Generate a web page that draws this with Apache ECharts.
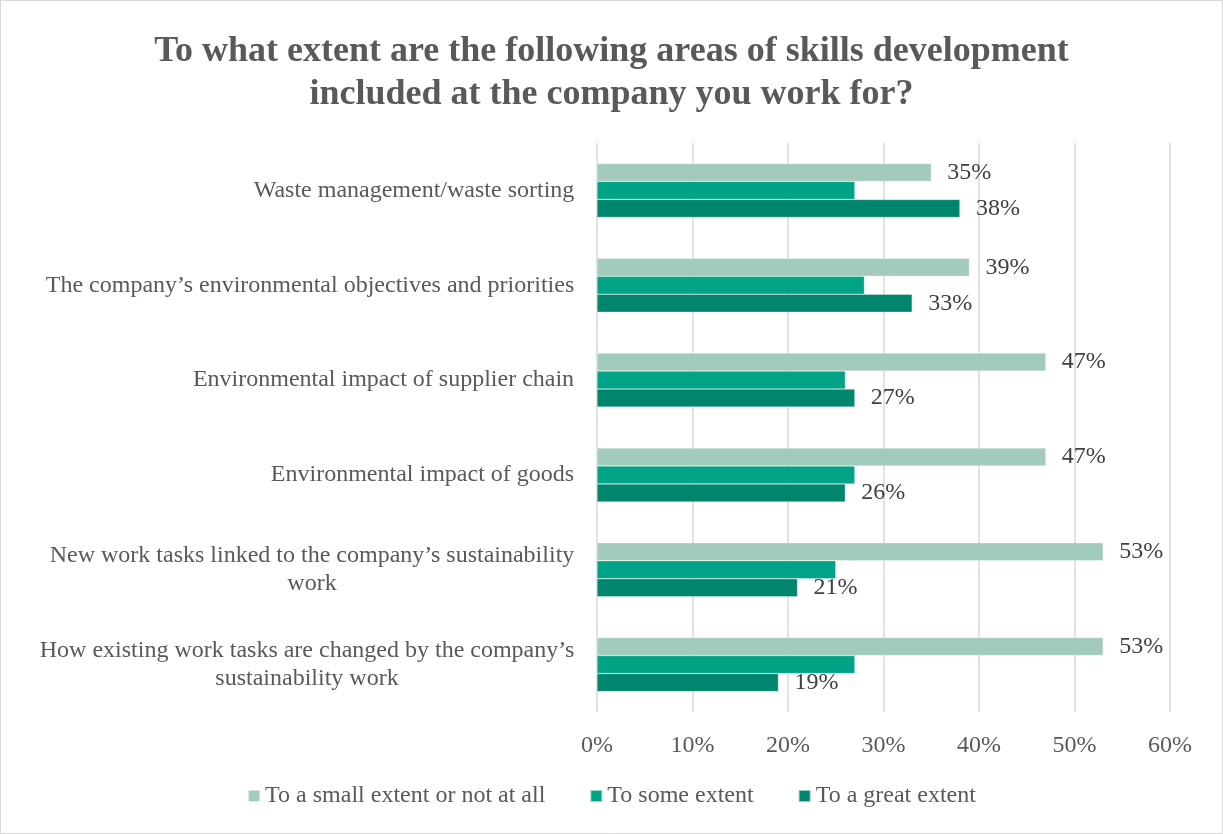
<!DOCTYPE html>
<html>
<head>
<meta charset="utf-8">
<script src="https://cdn.jsdelivr.net/npm/echarts@6/dist/echarts.min.js"></script>
<style>
  html, body { margin: 0; padding: 0; background: #fff; }
  #chart { width: 1223px; height: 834px; }
</style>
</head>
<body>
<div id="chart"></div>
<script>
// Survey areas, listed top to bottom
const categories = [
  'Waste management/waste sorting',
  'The company\u2019s environmental objectives and priorities',
  'Environmental impact of supplier chain',
  'Environmental impact of goods',
  'New work tasks linked to the company\u2019s sustainability\nwork',
  'How existing work tasks are changed by the company\u2019s\nsustainability work'
];
const seriesNames = ['To a small extent or not at all', 'To some extent', 'To a great extent'];
const smallExtent = [35, 39, 47, 47, 53, 53];
const someExtent = [27, 28, 26, 27, 25, 27];
const greatExtent = [38, 33, 27, 26, 21, 19];
const xTicks = [0, 10, 20, 30, 40, 50, 60];

const colors = ['#A2CBBB', '#00A385', '#00866C'];
const FONT = '"Liberation Serif", "DejaVu Serif", serif';
const LABEL_SIZE = 24;

// Multi-line category names are centred line by line, with the block right-aligned
// against the axis: each line goes in a rich box as wide as the longest line.
const measureCtx = document.createElement('canvas').getContext('2d');
measureCtx.font = LABEL_SIZE + 'px ' + FONT;
const catRich = {};
categories.forEach((c, i) => {
  const w = Math.max(...c.split('\n').map(l => measureCtx.measureText(l).width));
  catRich['c' + i] = {
    width: Math.ceil(w) + 1,
    align: 'center',
    color: '#595959',
    fontFamily: FONT,
    fontSize: LABEL_SIZE,
    lineHeight: 28
  };
});

const valueLabel = {
  show: true,
  position: 'right',
  distance: 16,
  color: '#404040',
  fontFamily: FONT,
  fontSize: LABEL_SIZE,
  formatter: p => p.value + '%'
};

function bar(name, data, color, labelled) {
  return {
    name: name,
    type: 'bar',
    data: data,
    barWidth: 18,
    barGap: '0%',
    itemStyle: { color: color, borderColor: 'rgba(255,255,255,0.6)', borderWidth: 0.5 },
    label: labelled ? valueLabel : { show: false },
    emphasis: { disabled: true }
  };
}

const chart = echarts.init(document.getElementById('chart'), null, { renderer: 'canvas' });
chart.setOption({
  animation: false,
  backgroundColor: '#fff',
  title: {
    text: 'To what extent are the following areas of skills development\nincluded at the company you work for?',
    left: 'center',
    top: 25,
    textStyle: {
      fontFamily: FONT,
      fontWeight: 'bold',
      fontSize: 36,
      color: '#595959',
      lineHeight: 43
    }
  },
  legend: {
    bottom: 21,
    left: 'center',
    itemWidth: 12,
    itemHeight: 12,
    itemGap: 44,
    icon: 'rect',
    textStyle: { fontFamily: FONT, fontSize: LABEL_SIZE, color: '#595959' },
    data: seriesNames
  },
  grid: { left: 597, right: 53, top: 143, bottom: 122, containLabel: false },
  xAxis: {
    type: 'value',
    min: 0,
    max: 60,
    interval: 10,
    axisLine: { show: false },
    axisTick: { show: false },
    splitLine: { lineStyle: { color: '#D9D9D9', width: 1.5 } },
    axisLabel: {
      color: '#595959',
      fontFamily: FONT,
      fontSize: LABEL_SIZE,
      margin: 22,
      formatter: v => (xTicks.indexOf(v) >= 0 ? v + '%' : '')
    }
  },
  yAxis: {
    type: 'category',
    inverse: true,
    data: categories,
    axisLine: { show: false },
    axisTick: { show: false },
    axisLabel: {
      align: 'right',
      margin: 22,
      rich: catRich,
      formatter: (v, i) => v.split('\n').map(l => '{c' + i + '|' + l + '}').join('\n')
    }
  },
  graphic: [{
    type: 'rect',
    shape: { x: 0.5, y: 0.5, width: 1222, height: 833 },
    style: { fill: 'none', stroke: '#D9D9D9', lineWidth: 1 },
    silent: true
  }],
  series: [
    bar(seriesNames[0], smallExtent, colors[0], true),
    bar(seriesNames[1], someExtent, colors[1], false),
    bar(seriesNames[2], greatExtent, colors[2], true)
  ]
});
</script>
</body>
</html>
